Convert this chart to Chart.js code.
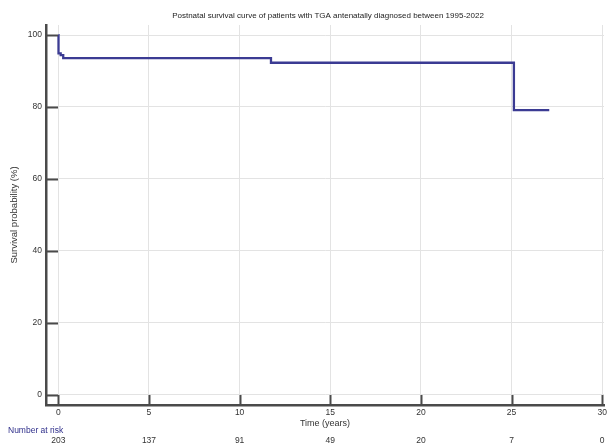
<!DOCTYPE html>
<html>
<head>
<meta charset="utf-8">
<script src="https://cdn.jsdelivr.net/npm/chart.js@4.4.1/dist/chart.umd.min.js"></script>
<style>
html,body{margin:0;padding:0;background:#fff;}
#wrap{width:608px;height:446px;position:relative;}
</style>
</head>
<body>
<div id="wrap"><canvas id="c" width="608" height="446"></canvas></div>
<script>
const titleText = 'Postnatal survival curve of patients with TGA antenatally diagnosed between 1995-2022';
const years = [0, 0.01, 0.13, 0.27, 11.73, 25.13, 27.08];
const survival = [100, 94.9, 94.4, 93.6, 92.3, 79.1, 79.1];
const xTicks = [0, 5, 10, 15, 20, 25, 30];
const yTicks = [0, 20, 40, 60, 80, 100];
const atRisk = [203, 137, 91, 49, 20, 7, 0];

const FONT = '"Liberation Sans", Arial, sans-serif';
const TXT = '#333333';

const extras = {
  id: 'extras',
  afterDraw(chart) {
    const ctx = chart.ctx;
    const xs = chart.scales.x, ys = chart.scales.y;
    const a = chart.chartArea;
    ctx.save();
    // inward tick marks
    ctx.strokeStyle = '#4a4a4a';
    ctx.lineWidth = 2;
    yTicks.forEach(v => {
      const y = Math.round(ys.getPixelForValue(v)) + 0.5;
      ctx.beginPath(); ctx.moveTo(a.left, y); ctx.lineTo(a.left + 12, y); ctx.stroke();
    });
    xTicks.forEach(v => {
      const x = Math.round(xs.getPixelForValue(v)) + 0.5;
      ctx.beginPath(); ctx.moveTo(x, a.bottom); ctx.lineTo(x, a.bottom - 10); ctx.stroke();
    });
    // title
    ctx.fillStyle = '#222';
    ctx.font = '8px ' + FONT;
    ctx.textAlign = 'center';
    ctx.textBaseline = 'middle';
    ctx.fillText(titleText, (a.left + a.right) / 2 + 3, 16);
    // number at risk
    ctx.font = '8.5px ' + FONT;
    ctx.fillStyle = '#2e2e8a';
    ctx.textAlign = 'left';
    ctx.fillText('Number at risk', 8, 431);
    ctx.fillStyle = TXT;
    ctx.textAlign = 'center';
    xTicks.forEach((v, i) => {
      ctx.fillText(String(atRisk[i]), xs.getPixelForValue(v), 441);
    });
    ctx.restore();
  }
};

new Chart(document.getElementById('c'), {
  type: 'line',
  data: {
    datasets: [{
      data: years.map((t, i) => ({ x: t, y: survival[i] })),
      borderColor: '#3b3b93',
      borderWidth: 2.3,
      pointRadius: 0,
      stepped: 'before',
      fill: false
    }]
  },
  options: {
    responsive: false,
    animation: false,
    events: [],
    layout: { padding: { left: 0, right: 4, top: 25, bottom: 15 } },
    plugins: { legend: { display: false }, tooltip: { enabled: false }, title: { display: false } },
    scales: {
      x: {
        type: 'linear',
        min: -0.68,
        max: 30.1,
        afterBuildTicks: s => { s.ticks = xTicks.map(v => ({ value: v })); },
        afterFit: s => { s.height = 26; s.paddingLeft = 0; s.paddingRight = 0; },
        grid: { color: '#e3e3e3', lineWidth: 1, drawTicks: false },
        border: { color: '#4a4a4a', width: 2.5 },
        ticks: { padding: 3, color: TXT, font: { family: FONT, size: 8.5 }, maxRotation: 0, autoSkip: false },
        title: { display: true, text: 'Time (years)', color: TXT, font: { family: FONT, size: 9 }, padding: { top: 0, bottom: 2 } }
      },
      y: {
        type: 'linear',
        min: -2.9,
        max: 102.8,
        afterBuildTicks: s => { s.ticks = yTicks.map(v => ({ value: v })); },
        afterFit: s => { s.width = 46; s.paddingTop = 0; s.paddingBottom = 0; },
        grid: { color: '#e3e3e3', lineWidth: 1, drawTicks: false },
        border: { color: '#4a4a4a', width: 2.5 },
        ticks: { padding: 4, color: TXT, font: { family: FONT, size: 8.5 } },
        title: { display: true, text: 'Survival probability (%)', color: TXT, font: { family: FONT, size: 9.5 }, padding: { top: 9, bottom: 0 } }
      }
    }
  },
  plugins: [extras]
});
</script>
</body>
</html>
